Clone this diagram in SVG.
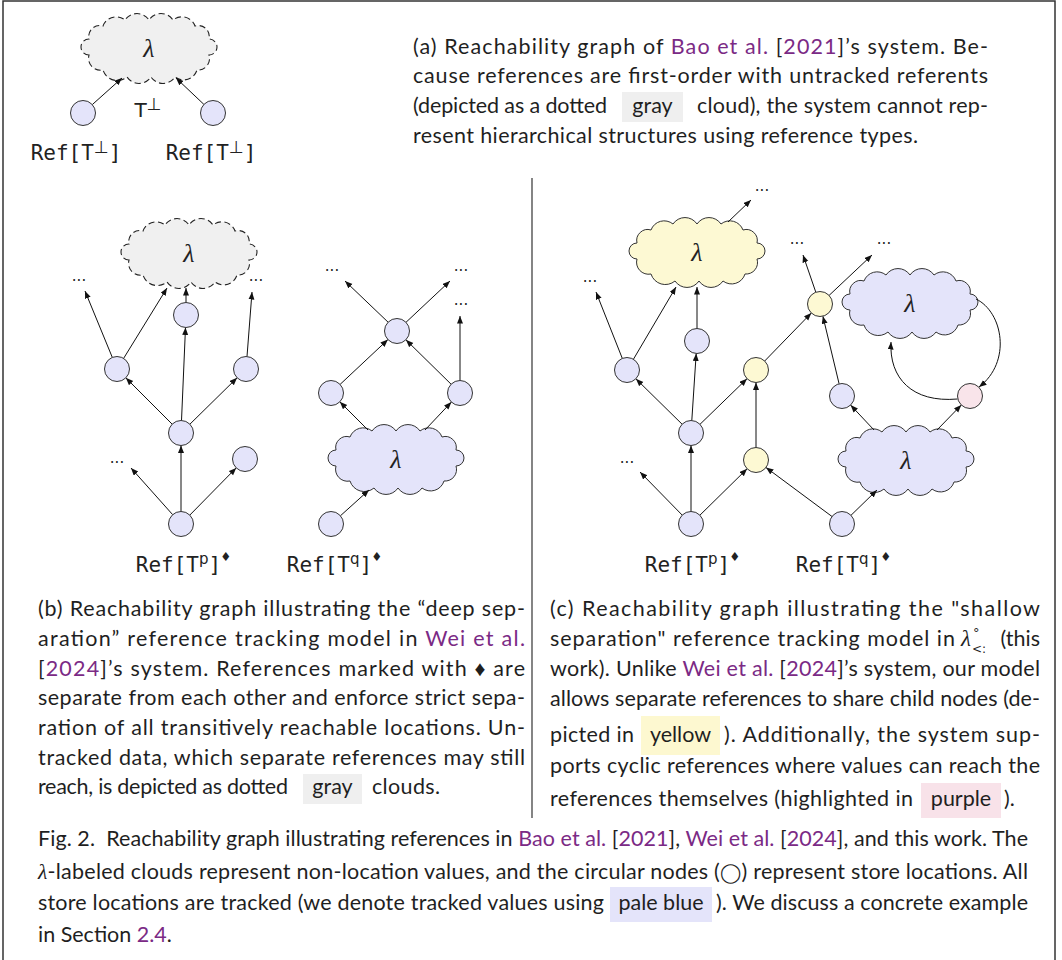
<svg xmlns="http://www.w3.org/2000/svg" width="1062" height="960" viewBox="0 0 1062 960">
<style>
.cap{font-family:Lato,"Open Sans","Liberation Sans",sans-serif;font-size:21.5px;fill:#1f1f1f}
.lnk{fill:#7b2a85}
.lam{font-family:"Liberation Serif","DejaVu Serif",serif;font-style:italic;font-size:26px;fill:#222}
.mono{font-family:"DejaVu Sans Mono","Liberation Mono",monospace;font-size:21px;fill:#222}
.dots{font-family:"DejaVu Sans",sans-serif;font-size:15px;fill:#222}
.nb{fill:#e4e4fa;stroke:#333;stroke-width:1}
.ny{fill:#fdf9d3;stroke:#333;stroke-width:1}
.np{fill:#f9e4ea;stroke:#333;stroke-width:1}
.cg{fill:#f0f0f0;stroke:#222;stroke-width:1.1;stroke-dasharray:6 3.5}
.cb{fill:#e4e4fa;stroke:#333;stroke-width:1}
.cy{fill:#fdf9d3;stroke:#333;stroke-width:1}
.e{fill:none;stroke:#111;stroke-width:1;marker-end:url(#ah)}
</style>
<defs>
<marker id="ah" markerUnits="userSpaceOnUse" markerWidth="8" markerHeight="7" refX="7.5" refY="3" orient="auto">
<path d="M0,0 L7.5,3 L0,6 z" fill="#111"/>
</marker>
<path id="cloud" d="M-60,6 A8,8 0 0 1 -60,-10 A11,11 0 0 1 -46,-23 A14,14 0 0 1 -24,-29 A14.4,14.4 0 0 1 0,-29 A14.4,14.4 0 0 1 24,-29 A14,14 0 0 1 46,-23 A11,11 0 0 1 60,-10 A8,8 0 0 1 60,6 A11.5,11.5 0 0 1 48,21 A14,14 0 0 1 26,28 A14.4,14.4 0 0 1 2,28 A14.4,14.4 0 0 1 -22,28 A15,15 0 0 1 -46,21 A12,12 0 0 1 -60,6 Z"/>
</defs>
<rect x="0" y="0" width="1062" height="960" fill="#fff"/>
<rect id="frame" x="3" y="1" width="1052" height="975" fill="none" stroke="#333" stroke-width="1.5"/>
<line id="separator" x1="532" y1="178" x2="532" y2="818" stroke="#333" stroke-width="1.2"/>

<!-- clouds -->
<g id="cloud-a"><use href="#cloud" class="cg" transform="translate(149,49)"/><text class="lam" x="149" y="57" text-anchor="middle">λ</text></g>
<g id="cloud-b1"><use href="#cloud" class="cg" transform="translate(189,254)"/><text class="lam" x="189" y="262" text-anchor="middle">λ</text></g>
<g id="cloud-b2"><use href="#cloud" class="cb" transform="translate(396,460)"/><text class="lam" x="396" y="468" text-anchor="middle">λ</text></g>
<g id="cloud-c1"><use href="#cloud" class="cy" transform="translate(697,253)"/><text class="lam" x="697" y="261" text-anchor="middle">λ</text></g>
<g id="cloud-c2"><use href="#cloud" class="cb" transform="translate(910,304)"/><text class="lam" x="910" y="312" text-anchor="middle">λ</text></g>
<g id="cloud-c3"><use href="#cloud" class="cb" transform="translate(906,461)"/><text class="lam" x="906" y="469" text-anchor="middle">λ</text></g>

<g id="connectors">
<!-- a -->
<path class="e" d="M92.3,104.6 L122,78"/>
<path class="e" d="M203.9,104.4 L176,78"/>
<!-- b left -->
<path class="e" d="M112.3,357.4 L85,291"/>
<path class="e" d="M123.6,358.4 L167,288"/>
<path class="e" d="M186,302.5 L186,288"/>
<path class="e" d="M247,356.5 L252,292"/>
<path class="e" d="M172.2,424.2 L125.8,377.8"/>
<path class="e" d="M181.5,420.5 L185.5,327.5"/>
<path class="e" d="M189.9,424.2 L237.1,377.8"/>
<path class="e" d="M181,511.5 L181,445.5"/>
<path class="e" d="M172.7,514.7 L131,468"/>
<path class="e" d="M189.8,515.1 L236.2,467.9"/>
<!-- b right -->
<path class="e" d="M388.1,322.2 L345,281"/>
<path class="e" d="M406,322.3 L450,281"/>
<path class="e" d="M460,380.5 L460,316"/>
<path class="e" d="M340.1,384.4 L387.9,339.6"/>
<path class="e" d="M451.1,384.2 L405.9,339.8"/>
<path class="e" d="M368,430 L339.8,401.8"/>
<path class="e" d="M425,430 L451.4,402.1"/>
<path class="e" d="M340.4,515.8 L369,490"/>
<!-- c left -->
<path class="e" d="M728,222 L751,200"/>
<path class="e" d="M622.3,358.4 L596,292"/>
<path class="e" d="M633.4,359.3 L676,287"/>
<path class="e" d="M697,328.5 L697,287"/>
<path class="e" d="M682.1,424.2 L635.9,378.8"/>
<path class="e" d="M691.8,420.5 L696.2,353.5"/>
<path class="e" d="M700,424.3 L747,378.7"/>
<path class="e" d="M691,511.5 L691,445.5"/>
<path class="e" d="M682.2,515.1 L640,472"/>
<path class="e" d="M699.9,515.2 L747.1,468.8"/>
<path class="e" d="M756,447.5 L756,382.5"/>
<!-- c right -->
<path class="e" d="M764.7,361 L811.3,313"/>
<path class="e" d="M815.8,292.2 L803,255"/>
<path class="e" d="M829.1,295.4 L872,255"/>
<path class="e" d="M839.1,383.8 L822.9,316.2"/>
<path class="e" d="M832,516.5 L766,467.5"/>
<path class="e" d="M851,515.3 L877,490"/>
<path class="e" d="M874,430 L850.6,405.1"/>
<path class="e" d="M937,430 L961.3,405"/>
<path class="e" d="M957.5,399 C912,403 889,378 891,342"/>
<path class="e" d="M976,299 C1003,312 1012,362 979,387"/>
</g>

<!-- nodes panel a -->
<g id="a-n1"><circle class="nb" cx="83" cy="113" r="12.5"/></g>
<g id="a-n2"><circle class="nb" cx="213" cy="113" r="12.5"/></g>
<!-- panel b left -->
<g id="b-n1"><circle class="nb" cx="186" cy="315" r="12.5"/></g>
<g id="b-n2"><circle class="nb" cx="117" cy="369" r="12.5"/></g>
<g id="b-n3"><circle class="nb" cx="246" cy="369" r="12.5"/></g>
<g id="b-n4"><circle class="nb" cx="181" cy="433" r="12.5"/></g>
<g id="b-n5"><circle class="nb" cx="245" cy="459" r="12.5"/></g>
<g id="b-n6"><circle class="nb" cx="181" cy="524" r="12.5"/></g>
<!-- panel b right -->
<g id="b-m1"><circle class="nb" cx="397" cy="331" r="12.5"/></g>
<g id="b-m2"><circle class="nb" cx="331" cy="393" r="12.5"/></g>
<g id="b-m3"><circle class="nb" cx="460" cy="393" r="12.5"/></g>
<g id="b-m4"><circle class="nb" cx="331" cy="524" r="12.5"/></g>
<!-- panel c -->
<g id="c-p1"><circle class="nb" cx="697" cy="341" r="12.5"/></g>
<g id="c-p2"><circle class="nb" cx="627" cy="370" r="12.5"/></g>
<g id="c-y1"><circle class="ny" cx="756" cy="370" r="12.5"/></g>
<g id="c-p3"><circle class="nb" cx="691" cy="433" r="12.5"/></g>
<g id="c-y2"><circle class="ny" cx="756" cy="460" r="12.5"/></g>
<g id="c-p4"><circle class="nb" cx="691" cy="524" r="12.5"/></g>
<g id="c-y3"><circle class="ny" cx="820" cy="304" r="12.5"/></g>
<g id="c-b1"><circle class="nb" cx="842" cy="396" r="12.5"/></g>
<g id="c-pk"><circle class="np" cx="970" cy="396" r="12.5"/></g>
<g id="c-b2"><circle class="nb" cx="842" cy="524" r="12.5"/></g>

<!-- ellipses -->
<g id="ellipses" class="dots" text-anchor="middle">
<text x="79" y="281">...</text>
<text x="256" y="281">...</text>
<text x="117" y="463">...</text>
<text x="332" y="271">...</text>
<text x="461" y="271">...</text>
<text x="461" y="305">...</text>
<text x="762" y="191">...</text>
<text x="590" y="282">...</text>
<text x="627" y="463">...</text>
<text x="797" y="244">...</text>
<text x="884" y="244">...</text>
</g>

<!-- labels -->
<g id="labels">
<text x="148" y="117" text-anchor="middle" font-family="DejaVu Sans,sans-serif" font-size="20" fill="#222">T<tspan dy="-7" font-size="17">⊥</tspan></text>
<text class="mono" x="76" y="160" text-anchor="middle">Ref[T<tspan dy="-7" font-size="17" font-family="DejaVu Sans,sans-serif">⊥</tspan><tspan dy="7">]</tspan></text>
<text class="mono" x="211" y="160" text-anchor="middle">Ref[T<tspan dy="-7" font-size="17" font-family="DejaVu Sans,sans-serif">⊥</tspan><tspan dy="7">]</tspan></text>
<text class="mono" x="183" y="572" text-anchor="middle">Ref[T<tspan dy="-8" font-size="15" font-family="DejaVu Sans,sans-serif">p</tspan><tspan dy="8">]</tspan><tspan dy="-10" font-size="15">♦</tspan></text>
<text class="mono" x="334" y="572" text-anchor="middle">Ref[T<tspan dy="-8" font-size="15" font-family="DejaVu Sans,sans-serif">q</tspan><tspan dy="8">]</tspan><tspan dy="-10" font-size="15">♦</tspan></text>
<text class="mono" x="692" y="572" text-anchor="middle">Ref[T<tspan dy="-8" font-size="15" font-family="DejaVu Sans,sans-serif">p</tspan><tspan dy="8">]</tspan><tspan dy="-10" font-size="15">♦</tspan></text>
<text class="mono" x="843" y="572" text-anchor="middle">Ref[T<tspan dy="-8" font-size="15" font-family="DejaVu Sans,sans-serif">q</tspan><tspan dy="8">]</tspan><tspan dy="-10" font-size="15">♦</tspan></text>
</g>

<!-- caption a -->
<g id="caption-a" class="cap">
<rect x="622" y="92" width="61" height="30" fill="#efefef"/>
<text x="413" y="54" textLength="575" lengthAdjust="spacing">(a) Reachability graph of <tspan class="lnk">Bao et al.</tspan> [<tspan class="lnk">2021</tspan>]’s system. Be-</text>
<text x="413" y="83" textLength="575" lengthAdjust="spacing">cause references are first-order with untracked referents</text>
<text x="413" y="113" textLength="194" lengthAdjust="spacing">(depicted as a dotted</text>
<text x="652.5" y="113" text-anchor="middle">gray</text>
<text x="697" y="113" textLength="291" lengthAdjust="spacing">cloud), the system cannot rep-</text>
<text x="413" y="143" textLength="505" lengthAdjust="spacing">resent hierarchical structures using reference types.</text>
</g>

<!-- caption b -->
<g id="caption-b" class="cap">
<rect x="303" y="774" width="59" height="30" fill="#efefef"/>
<text x="38" y="616" textLength="487" lengthAdjust="spacing">(b) Reachability graph illustrating the “deep sep-</text>
<text x="38" y="646" textLength="487" lengthAdjust="spacing">aration” reference tracking model in <tspan class="lnk">Wei et al.</tspan></text>
<text x="38" y="676" textLength="487" lengthAdjust="spacing">[<tspan class="lnk">2024</tspan>]’s system. References marked with ♦ are</text>
<text x="38" y="705" textLength="487" lengthAdjust="spacing">separate from each other and enforce strict sepa-</text>
<text x="38" y="735" textLength="487" lengthAdjust="spacing">ration of all transitively reachable locations. Un-</text>
<text x="38" y="765" textLength="487" lengthAdjust="spacing">tracked data, which separate references may still</text>
<text x="38" y="794" textLength="250" lengthAdjust="spacing">reach, is depicted as dotted</text>
<text x="332.5" y="794" text-anchor="middle">gray</text>
<text x="372" y="794" textLength="68" lengthAdjust="spacing">clouds.</text>
</g>

<!-- caption c -->
<g id="caption-c" class="cap">
<rect x="641" y="716" width="79" height="39" fill="#fdf8d0"/>
<rect x="921" y="783" width="80" height="35" fill="#f8e2e9"/>
<text x="550" y="616" textLength="490" lengthAdjust="spacing">(c) Reachability graph illustrating the "shallow</text>
<text x="550" y="646" textLength="405" lengthAdjust="spacing">separation" reference tracking model in</text>
<text x="961" y="646" font-family="Liberation Serif,serif" font-style="italic" font-size="23">λ</text>
<text x="973" y="637" font-family="DejaVu Sans,sans-serif" font-size="13">°</text>
<text x="972" y="653" font-family="DejaVu Sans,sans-serif" font-size="12">&lt;:</text>
<text x="1040" y="646" text-anchor="end">(this</text>
<text x="550" y="676" textLength="490" lengthAdjust="spacing">work). Unlike <tspan class="lnk">Wei et al.</tspan> [<tspan class="lnk">2024</tspan>]’s system, our model</text>
<text x="550" y="706" textLength="490" lengthAdjust="spacing">allows separate references to share child nodes (de-</text>
<text x="550" y="742" textLength="84" lengthAdjust="spacing">picted in</text>
<text x="680.5" y="742" text-anchor="middle">yellow</text>
<text x="724" y="742" textLength="316" lengthAdjust="spacing">). Additionally, the system sup-</text>
<text x="550" y="773" textLength="490" lengthAdjust="spacing">ports cyclic references where values can reach the</text>
<text x="550" y="806" textLength="363" lengthAdjust="spacing">references themselves (highlighted in</text>
<text x="961" y="806" text-anchor="middle">purple</text>
<text x="1004" y="806">).</text>
</g>

<!-- main caption -->
<g id="caption-main" class="cap">
<rect x="610" y="887" width="102" height="35" fill="#e4e4fa"/>
<text x="38" y="846" textLength="990" lengthAdjust="spacing">Fig. 2.&#160; Reachability graph illustrating references in <tspan class="lnk">Bao et al.</tspan> [<tspan class="lnk">2021</tspan>], <tspan class="lnk">Wei et al.</tspan> [<tspan class="lnk">2024</tspan>], and this work. The</text>
<text x="38" y="879" textLength="990" lengthAdjust="spacing"><tspan font-family="Liberation Serif,serif" font-style="italic">λ</tspan>-labeled clouds represent non-location values, and the circular nodes (<tspan font-family="DejaVu Sans,sans-serif" font-size="19">◯</tspan>) represent store locations. All</text>
<text x="38" y="910" textLength="566" lengthAdjust="spacing">store locations are tracked (we denote tracked values using</text>
<text x="661" y="910" text-anchor="middle">pale blue</text>
<text x="716" y="910" textLength="312" lengthAdjust="spacing">). We discuss a concrete example</text>
<text x="38" y="942">in Section <tspan class="lnk">2.4</tspan>.</text>
</g>
</svg>
